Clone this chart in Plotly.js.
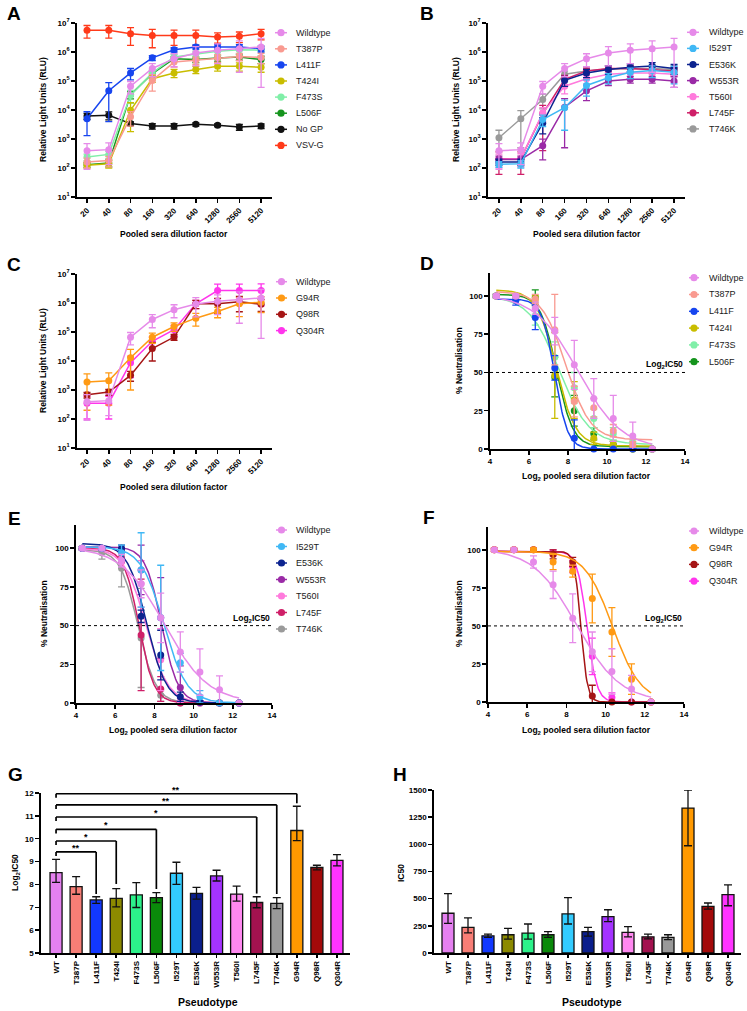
<!DOCTYPE html>
<html>
<head>
<meta charset="utf-8">
<script src="https://cdn.plot.ly/plotly-3.0.1.min.js"></script>
<style>
  html, body { margin: 0; padding: 0; background: #fff; }
  #fig { width: 747px; height: 1011px; }
</style>
</head>
<body>
<div id="fig"></div>
<script>
// ---------- data ----------
const dilutions = ['20', '40', '80', '160', '320', '640', '1280', '2560', '5120'];
const log2Dilutions = dilutions.map(d => Math.log2(Number(d)));

// Relative light units (mean and SD) per pseudotype, panels A-C
const rluWildtype = [390, 430, 6.6e4, 2.7e5, 5.9e5, 9.3e5, 1.15e6, 1.3e6, 1.5e6];
const rluWildtypeSd = [300, 300, 3e4, 1.3e5, 2.8e5, 6e5, 7.5e5, 1.1e6, 1.44e6];

const panelASeries = ['Wildtype', 'T387P', 'L411F', 'T424I', 'F473S', 'L506F', 'No GP', 'VSV-G'];
const panelARlu = [
  rluWildtype,
  [160, 180, 5.8e3, 1.05e5, 4.5e5, 5.2e5, 6.3e5, 7e5, 6.5e5],
  [5e3, 4.6e4, 1.9e5, 6.3e5, 1.2e6, 1.5e6, 1.5e6, 1.5e6, 1.3e6],
  [124, 140, 9.8e3, 1.2e5, 1.9e5, 2.5e5, 3.2e5, 3.2e5, 3e5],
  [240, 295, 3.2e4, 1.9e5, 6.7e5, 8.7e5, 1.07e6, 1.2e6, 1.15e6],
  [130, 150, 3.4e4, 1.8e5, 5.9e5, 5.5e5, 6.2e5, 6.7e5, 5.5e5],
  [6.2e3, 6.6e3, 3.4e3, 2.8e3, 2.8e3, 3.2e3, 3e3, 2.6e3, 2.8e3],
  [5.6e6, 5.6e6, 4.3e6, 3.7e6, 3.7e6, 3.7e6, 3.3e6, 3.5e6, 4.3e6]
];
const panelARluSd = [
  rluWildtypeSd,
  [60, 70, 3e3, 6e4, 1.5e5, 1.5e5, 1.8e5, 2e5, 2.5e5],
  [3700, 4.2e4, 8e4, 1.2e5, 2e5, 2.5e5, 3e5, 3e5, 3e5],
  [25, 40, 8e3, 3e4, 6e4, 7e4, 1e5, 1e5, 1e5],
  [60, 80, 1.5e4, 5e4, 1.5e5, 2e5, 3e5, 3.5e5, 4e5],
  [25, 40, 1e4, 4e4, 1e5, 1.2e5, 1.5e5, 1.5e5, 1.5e5],
  [1500, 2000, 500, 600, 600, 400, 300, 600, 500],
  [2.6e6, 2.6e6, 2.6e6, 2.3e6, 2e6, 2e6, 1.3e6, 1.4e6, 1.7e6]
];

const panelBSeries = ['Wildtype', 'I529T', 'E536K', 'W553R', 'T560I', 'L745F', 'T746K'];
const panelBRlu = [
  rluWildtype,
  [135, 140, 4.7e3, 1.2e4, 7e4, 1.3e5, 2e5, 2.3e5, 2e5],
  [160, 160, 3.5e3, 1.05e5, 1.9e5, 2.5e5, 3e5, 3.3e5, 2.7e5],
  [195, 195, 590, 1.25e4, 4.6e4, 1e5, 1.15e5, 1.15e5, 1e5],
  [200, 210, 8e3, 6.6e4, 1.2e5, 1.7e5, 1.9e5, 1.9e5, 1.7e5],
  [210, 210, 7.4e3, 1.15e5, 2.2e5, 2.7e5, 2.7e5, 2.5e5, 2.2e5],
  [1100, 5e3, 2.3e4, 1.7e5, 2.2e5, 2.6e5, 2.7e5, 2.7e5, 2.5e5]
];
const panelBRluSd = [
  rluWildtypeSd,
  [30, 40, 2e3, 1e4, 4e4, 5e4, 8e4, 1e5, 1.2e5],
  [40, 40, 2e3, 4e4, 6e4, 8e4, 9e4, 1e5, 1e5],
  [60, 60, 400, 1.2e4, 2.5e4, 3e4, 3e4, 3e4, 4e4],
  [100, 100, 4e3, 3e4, 4e4, 6e4, 7e4, 8e4, 8e4],
  [150, 150, 7e3, 4e4, 6e4, 6e4, 7e4, 7e4, 7e4],
  [900, 4500, 1.2e4, 5e4, 6e4, 7e4, 8e4, 8e4, 8e4]
];

const panelCSeries = ['Wildtype', 'G94R', 'Q98R', 'Q304R'];
const panelCRlu = [
  rluWildtype,
  [1.9e3, 2.1e3, 1.3e4, 6.6e4, 1.55e5, 3e5, 5.1e5, 9.4e5, 1.07e6],
  [680, 850, 3.2e3, 2.7e4, 6.7e4, 9.4e5, 9.4e5, 1.1e6, 9.1e5],
  [350, 350, 8.7e3, 4.8e4, 1.2e5, 9.4e5, 2.7e6, 2.7e6, 2.7e6]
];
const panelCRluSd = [
  rluWildtypeSd,
  [1700, 1800, 1.2e4, 2.5e4, 5e4, 1.4e5, 2e5, 6e5, 6e5],
  [150, 200, 1200, 1.7e4, 1.5e4, 3e5, 5e5, 6e5, 4e5],
  [250, 250, 6e3, 2e4, 5e4, 3e5, 1.8e6, 1.8e6, 1.9e6]
];

// % neutralisation (mean and SD), panels D-F
const neutWildtype = [100, 100, 92, 77, 55, 33, 20, 8.5, 0];
const neutWildtypeSd = [1, 1, 4, 9, 16, 13, 15, 9, 0];

const panelDSeries = ['Wildtype', 'T387P', 'L411F', 'T424I', 'F473S', 'L506F'];
const panelDNeut = [
  neutWildtype,
  [100, 100, 98, 78, 31, 27, 12, 3, 0],
  [100, 97, 86, 53, 7, 0, 0, 0, 0],
  [100, 100, 98, 48, 32, 7, 3, 0, 0],
  [100, 99, 87, 60, 40, 20, 10, 4, 0],
  [100, 100, 99, 47, 25, 10, 3, 0, 0]
];
const panelDNeutSd = [
  neutWildtypeSd,
  [1, 1, 3, 23, 10, 6, 4, 2, 0],
  [1, 3, 8, 8, 12, 0, 0, 0, 0],
  [1, 1, 2, 28, 12, 4, 2, 0, 0],
  [1, 2, 6, 10, 10, 6, 4, 2, 0],
  [1, 1, 5, 13, 10, 4, 2, 0, 0]
];

const panelESeries = ['Wildtype', 'I529T', 'E536K', 'W553R', 'T560I', 'L745F', 'T746K'];
const panelENeut = [
  neutWildtype,
  [100, 100, 97, 86, 55, 26, 4, 0, 0],
  [100, 100, 100, 56, 31, 4, 0.5, 0, 0],
  [100, 100, 98, 86, 55, 10, 0.5, 0, 0],
  [100, 100, 93, 77, 28, 1, 0, 0, 0],
  [100, 100, 94, 44, 9, 0, 0, 0, 0],
  [100, 97, 87, 42, 5, 0, 0, 0, 0]
];
const panelENeutSd = [
  neutWildtypeSd,
  [1, 1, 5, 24, 34, 6, 4, 0, 0],
  [1, 1, 2, 4, 16, 3, 1, 0, 0],
  [1, 1, 2, 16, 26, 14, 1, 0, 0],
  [1, 1, 3, 15, 20, 2, 0, 0, 0],
  [1, 1, 3, 36, 8, 0, 0, 0, 0],
  [1, 4, 12, 32, 4, 0, 0, 0, 0]
];

const panelFSeries = ['Wildtype', 'G94R', 'Q98R', 'Q304R'];
const panelFNeut = [
  neutWildtype,
  [100, 100, 100, 92, 86, 68, 46, 15, 0],
  [100, 100, 100, 97, 92, 4, 0, 0, 0],
  [100, 100, 100, 98, 89, 30, 3, 0, 0]
];
const panelFNeutSd = [
  neutWildtypeSd,
  [1, 1, 1, 5, 4, 16, 16, 10, 0],
  [1, 1, 1, 3, 3, 7, 0, 0, 0],
  [1, 1, 1, 2, 4, 12, 3, 0, 0]
];

// fitted dose-response parameters (top, bottom, slope per log2 unit)
const fitTop = {Wildtype: 101, T387P: 103, L411F: 98, T424I: 104, F473S: 100, L506F: 101,
  I529T: 101, E536K: 103, W553R: 101, T560I: 100, L745F: 100, T746K: 99, G94R: 99, Q98R: 99, Q304R: 99};
const fitBottom = {Wildtype: 0, T387P: 6, L411F: 0, T424I: 2, F473S: 3, L506F: 1.5,
  I529T: 0, E536K: 0, W553R: 0, T560I: 0, L745F: 0, T746K: 0, G94R: 0, Q98R: 0, Q304R: 0};
const fitSlope = {Wildtype: 0.9, T387P: 1.6, L411F: 3.0, T424I: 2.0, F473S: 1.3, L506F: 2.4,
  I529T: 1.7, E536K: 2.0, W553R: 2.4, T560I: 1.8, L745F: 2.6, T746K: 2.2, G94R: 1.4, Q98R: 6.0, Q304R: 4.0};

// IC50 summary, panels G-H
const pseudotypes = ['WT', 'T387P', 'L411F', 'T424I', 'F473S', 'L506F', 'I529T', 'E536K',
  'W553R', 'T560I', 'L745F', 'T746K', 'G94R', 'Q98R', 'Q304R'];
const log2IC50 = [8.52, 7.90, 7.32, 7.39, 7.54, 7.42, 8.49, 7.61, 8.37, 7.58, 7.21, 7.17, 10.36, 8.74, 9.05];
const log2IC50Upper = [9.10, 8.34, 7.46, 7.82, 8.08, 7.64, 8.97, 7.87, 8.62, 7.93, 7.46, 7.42, 11.42, 8.84, 9.30];
const log2IC50Lower = [8.09, 7.57, 7.17, 7.02, 6.99, 7.20, 8.00, 7.36, 8.15, 7.27, 6.98, 6.94, 9.92, 8.64, 8.81];
const ic50 = [366, 236, 158, 168, 183, 168, 360, 196, 335, 189, 149, 143, 1334, 429, 537];
const ic50Upper = [547, 323, 174, 227, 267, 196, 509, 236, 398, 242, 174, 168, 1500, 460, 627];
const ic50Lower = [273, 186, 143, 127, 127, 143, 267, 155, 289, 149, 130, 124, 987, 404, 435];

// significance versus WT
const sigTargets = ['L411F', 'T424I', 'L506F', 'L745F', 'T746K', 'G94R'];
const sigLabels = ['**', '*', '*', '*', '**', '**'];
const sigLevels = [9.42, 9.90, 10.41, 10.95, 11.48, 11.97];
const sigDropTo = [7.58, 8.02, 7.80, 7.60, 7.58, 11.55];

// ---------- styling ----------
const lineColours = {
  'Wildtype': '#e68ae9', 'T387P': '#f99a90', 'L411F': '#1745ef', 'T424I': '#c9bd00',
  'F473S': '#80efa8', 'L506F': '#15941d', 'No GP': '#111111', 'VSV-G': '#ff3a1a',
  'I529T': '#40b8f5', 'E536K': '#0c238f', 'W553R': '#9a2aa6', 'T560I': '#ff7adc',
  'L745F': '#cf1f68', 'T746K': '#9a9a9a', 'G94R': '#ff9a14', 'Q98R': '#a51515', 'Q304R': '#ff35ec'
};
const barColours = ['#e580f0', '#f87e76', '#1238ff', '#8c8a00', '#2cf28a', '#0a8a0a', '#33ccff', '#0b1f8c',
  '#a433ff', '#ff88f0', '#a3124f', '#999999', '#ff9900', '#a30a0a', '#ff33ff'];

const W = 747, H = 1011;
const fx = p => p / W;
const fy = p => 1 - p / H;
const FONT = 'Liberation Sans, Arial, Helvetica, sans-serif';

const data = [];
const shapes = [];
const annotations = [];

function baseAxis(extra) {
  return Object.assign({
    showgrid: false, zeroline: false, showline: true, linecolor: '#000', linewidth: 1.8,
    ticks: 'outside', ticklen: 4, tickwidth: 1.5, tickcolor: '#000',
    tickfont: {family: FONT, size: 8, color: '#000', weight: 'bold'},
    fixedrange: true
  }, extra);
}

function text(t, x, y, opts) {
  annotations.push(Object.assign({
    text: t, xref: 'paper', yref: 'paper', x: fx(x), y: fy(y),
    xanchor: 'center', yanchor: 'middle', showarrow: false,
    font: {family: FONT, size: 8.5, color: '#000', weight: 'bold'}
  }, opts || {}));
}

function panelLetter(t, x, y) {
  text(t, x, y, {xanchor: 'left', font: {family: FONT, size: 19, color: '#000', weight: 'bold'}});
}

function legend(names, lineX0, lineX1, textX, y0, step) {
  names.forEach((n, i) => {
    const y = y0 + i * step;
    const c = lineColours[n];
    shapes.push({type: 'line', xref: 'paper', yref: 'paper', x0: fx(lineX0), x1: fx(lineX1),
      y0: fy(y), y1: fy(y), line: {color: c, width: 1.5}});
    shapes.push({type: 'circle', xref: 'paper', yref: 'paper', xsizemode: 'pixel', ysizemode: 'pixel',
      xanchor: fx((lineX0 + lineX1) / 2), yanchor: fy(y), x0: -3.6, x1: 3.6, y0: -3.6, y1: 3.6,
      fillcolor: c, line: {color: c, width: 0}});
    text(n, textX, y, {xanchor: 'left', font: {family: FONT, size: 9, color: '#1a1a1a'}});
  });
}

// ---------- RLU panels ----------
function rluPanel(series, values, sds, xa, ya) {
  for (let i = series.length - 1; i >= 0; i--) {
    const c = lineColours[series[i]];
    data.push({
      type: 'scatter', mode: 'lines+markers', x: dilutions, y: values[i],
      xaxis: xa, yaxis: ya, name: series[i],
      line: {color: c, width: 1.5}, marker: {color: c, size: 7},
      error_y: {type: 'data', array: sds[i], color: c, thickness: 1.3, width: 3.5},
      cliponaxis: false, hoverinfo: 'skip'
    });
  }
}
rluPanel(panelASeries, panelARlu, panelARluSd, 'x', 'y');
rluPanel(panelBSeries, panelBRlu, panelBRluSd, 'x2', 'y2');
rluPanel(panelCSeries, panelCRlu, panelCRluSd, 'x3', 'y3');

// ---------- neutralisation panels ----------
function neutPanel(series, values, sds, xa, ya) {
  const xs = [];
  for (let x = log2Dilutions[0]; x <= log2Dilutions[log2Dilutions.length - 1] + 1e-9; x += 0.04) xs.push(x);
  for (let i = series.length - 1; i >= 0; i--) {
    const n = series[i];
    const c = lineColours[n];
    const mid = log2IC50[pseudotypes.indexOf(n === 'Wildtype' ? 'WT' : n)];
    const ys = xs.map(x => fitBottom[n] + (fitTop[n] - fitBottom[n]) / (1 + Math.exp(fitSlope[n] * (x - mid))));
    data.push({type: 'scatter', mode: 'lines', x: xs, y: ys, xaxis: xa, yaxis: ya,
      line: {color: c, width: 1.5}, hoverinfo: 'skip', cliponaxis: false});
    data.push({type: 'scatter', mode: 'markers', x: log2Dilutions, y: values[i], xaxis: xa, yaxis: ya,
      marker: {color: c, size: 7},
      error_y: {type: 'data', array: sds[i], color: c, thickness: 1.3, width: 3.5},
      hoverinfo: 'skip', cliponaxis: false});
  }
}
neutPanel(panelDSeries, panelDNeut, panelDNeutSd, 'x4', 'y4');
neutPanel(panelESeries, panelENeut, panelENeutSd, 'x5', 'y5');
neutPanel(panelFSeries, panelFNeut, panelFNeutSd, 'x6', 'y6');

['x4', 'x5', 'x6'].forEach(xa => {
  const ya = 'y' + xa.slice(1);
  shapes.push({type: 'line', xref: xa, yref: ya, x0: 4, x1: 14, y0: 50, y1: 50,
    line: {color: '#000', width: 1, dash: 'dot'}});
  annotations.push({text: 'Log<sub>2</sub>IC50', xref: xa, yref: ya, x: 14, y: 50,
    xanchor: 'right', yanchor: 'bottom', showarrow: false,
    font: {family: FONT, size: 8.5, color: '#000', weight: 'bold'}});
});

// ---------- bar panels ----------
data.push({
  type: 'bar', x: pseudotypes, y: log2IC50, xaxis: 'x7', yaxis: 'y7', width: 0.6,
  marker: {color: barColours, line: {color: '#111', width: 1.3}},
  error_y: {type: 'data', symmetric: false,
    array: log2IC50.map((v, i) => log2IC50Upper[i] - v),
    arrayminus: log2IC50.map((v, i) => v - log2IC50Lower[i]),
    color: '#111', thickness: 1.3, width: 4},
  hoverinfo: 'skip'
});
data.push({
  type: 'bar', x: pseudotypes, y: ic50, xaxis: 'x8', yaxis: 'y8', width: 0.6,
  marker: {color: barColours, line: {color: '#111', width: 1.3}},
  error_y: {type: 'data', symmetric: false,
    array: ic50.map((v, i) => ic50Upper[i] - v),
    arrayminus: ic50.map((v, i) => v - ic50Lower[i]),
    color: '#111', thickness: 1.3, width: 4},
  hoverinfo: 'skip', cliponaxis: false
});

// significance brackets against WT
sigTargets.forEach((t, i) => {
  const xi = pseudotypes.indexOf(t);
  const lvl = sigLevels[i];
  const ln = {color: '#000', width: 1.7};
  shapes.push({type: 'line', xref: 'x7', yref: 'y7', x0: 0, x1: xi, y0: lvl, y1: lvl, line: ln});
  shapes.push({type: 'line', xref: 'x7', yref: 'y7', x0: 0, x1: 0, y0: lvl, y1: lvl - 0.18, line: ln});
  shapes.push({type: 'line', xref: 'x7', yref: 'y7', x0: xi, x1: xi, y0: lvl, y1: sigDropTo[i], line: ln});
  annotations.push({text: sigLabels[i], xref: 'x7', yref: 'y7', x: xi / 2, y: lvl,
    xanchor: 'center', yanchor: 'bottom', yshift: -3, showarrow: false,
    font: {family: FONT, size: 9, color: '#000', weight: 'bold'}});
});

// ---------- titles, letters, legends ----------
panelLetter('A', 5, 14); panelLetter('B', 418, 14);
panelLetter('C', 5, 264); panelLetter('D', 418, 263);
panelLetter('E', 6, 518); panelLetter('F', 421, 517);
panelLetter('G', 6, 774); panelLetter('H', 391, 774);

const rot = {textangle: -90};
text('Relative Light Units (RLU)', 43, 110, rot);
text('Relative Light Units (RLU)', 456, 110, rot);
text('Relative Light Units (RLU)', 43, 361, rot);
text('Pooled sera dilution factor', 174, 234);
text('Pooled sera dilution factor', 587, 234);
text('Pooled sera dilution factor', 174, 487);
text('% Neutralisation', 459, 361, rot);
text('% Neutralisation', 44, 614, rot);
text('% Neutralisation', 459, 614, rot);
text('Log<sub>2</sub> pooled sera dilution factor', 586, 477);
text('Log<sub>2</sub> pooled sera dilution factor', 173, 730);
text('Log<sub>2</sub> pooled sera dilution factor', 586, 730);
text('Log<sub>2</sub>IC50', 15, 873, rot);
text('IC50', 401, 873, rot);
text('Pseudotype', 208, 1002, {font: {family: FONT, size: 10.5, color: '#000', weight: 'bold'}});
text('Pseudotype', 592, 1002, {font: {family: FONT, size: 10.5, color: '#000', weight: 'bold'}});

legend(panelASeries, 275, 287, 294, 32.7, 16.1);
legend(panelBSeries, 687, 699, 707, 32.3, 16.1);
legend(panelCSeries, 276, 287, 294, 281.7, 16.3);
legend(panelDSeries, 689, 699, 707, 277.7, 16.8);
legend(panelESeries, 276, 287, 294, 530, 16.5);
legend(panelFSeries, 689, 699, 707, 531, 16.7);

// ---------- axes ----------
const logTicks = [10, 100, 1e3, 1e4, 1e5, 1e6, 1e7];
const logText = logTicks.map((v, i) => '10<sup>' + (i + 1) + '</sup>');
const catAxis = (dom, range, anchor) => baseAxis({type: 'category', domain: [fx(dom[0]), fx(dom[1])],
  range: range, tickangle: -45, anchor: anchor});
const logAxis = (dom, anchor) => baseAxis({type: 'log', range: [1, 7], domain: [fy(dom[0]), fy(dom[1])],
  tickvals: logTicks, ticktext: logText, anchor: anchor});
const neutX = (dom, anchor) => baseAxis({range: [4, 14], tick0: 4, dtick: 2, domain: [fx(dom[0]), fx(dom[1])], anchor: anchor});
const neutY = (dom, anchor) => baseAxis({range: [0, 115], tickvals: [0, 25, 50, 75, 100],
  domain: [fy(dom[0]), fy(dom[1])], anchor: anchor});

const layout = {
  width: W, height: H, margin: {l: 0, r: 0, t: 0, b: 0},
  paper_bgcolor: '#fff', plot_bgcolor: 'rgba(0,0,0,0)', showlegend: false,
  font: {family: FONT, color: '#000'},
  xaxis: catAxis([77, 272], [-0.46, 8.5], 'y'),
  yaxis: logAxis([197, 23], 'x'),
  xaxis2: catAxis([488, 685], [-0.5, 8.5], 'y2'),
  yaxis2: logAxis([197, 23], 'x2'),
  xaxis3: catAxis([77, 272], [-0.46, 8.5], 'y3'),
  yaxis3: logAxis([448, 274], 'x3'),
  xaxis4: neutX([490, 685], 'y4'),
  yaxis4: neutY([449, 273], 'x4'),
  xaxis5: neutX([76, 272], 'y5'),
  yaxis5: neutY([703, 525], 'x5'),
  xaxis6: neutX([488, 684], 'y6'),
  yaxis6: neutY([702, 527], 'x6'),
  xaxis7: baseAxis({type: 'category', domain: [fx(41), fx(350)], range: [-0.75, 14.65],
    tickangle: -90, ticklen: 3, anchor: 'y7'}),
  yaxis7: baseAxis({range: [5, 12], dtick: 1, domain: [fy(953), fy(793)], anchor: 'x7'}),
  xaxis8: baseAxis({type: 'category', domain: [fx(434), fx(741)], range: [-0.7, 14.65],
    tickangle: -90, ticklen: 3, anchor: 'y8'}),
  yaxis8: baseAxis({range: [0, 1500], tickvals: [0, 250, 500, 750, 1000, 1250, 1500],
    domain: [fy(953), fy(790)], anchor: 'x8'}),
  shapes: shapes,
  annotations: annotations
};

Plotly.newPlot('fig', data, layout, {displayModeBar: false, staticPlot: true});
</script>
</body>
</html>
